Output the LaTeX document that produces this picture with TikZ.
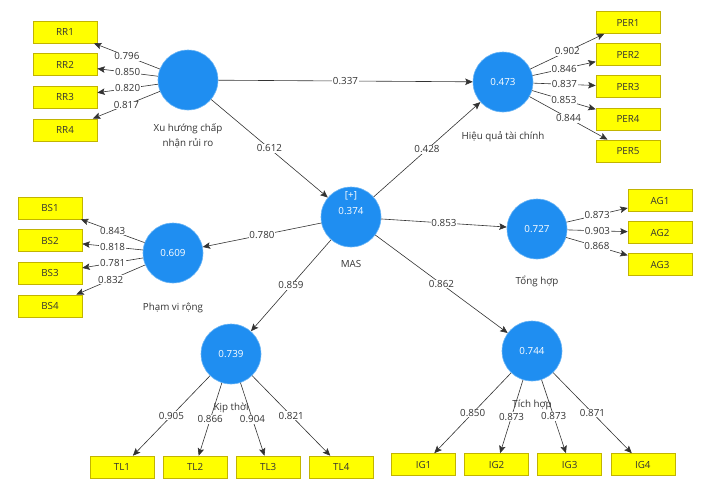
\documentclass[tikz,border=0pt]{standalone}
\usepackage{fontspec}
\setmainfont{Open Sans}
\usetikzlibrary{positioning,arrows.meta}
\definecolor{lv}{HTML}{1F8EF1}
\definecolor{lvrim}{HTML}{6DB6F5}
\definecolor{ind}{HTML}{FFFF00}
\definecolor{indrim}{HTML}{C2B400}
\definecolor{ink}{HTML}{333333}
\tikzset{
  lat/.style={circle, fill=lv, draw=lvrim, line width=0.6pt, minimum size=60pt, inner sep=0pt, text=white},
  box/.style={rectangle, fill=ind, draw=indrim, line width=0.6pt, minimum width=64pt, minimum height=22pt, inner sep=0pt, text=ink},
  link/.style={draw=ink, line width=0.6pt, -{Stealth[length=7.5pt, width=6.5pt, inset=1.5pt]}},
  load/.style={fill=white, inner sep=0.8pt, text=ink},
  lvname/.style={text=ink, align=center, inner sep=1pt}}
\begin{document}
\begin{tikzpicture}[x=1pt, y=-1pt, font=\fontsize{9.8}{12}\selectfont, node distance=10pt]
\useasboundingbox (0,0) rectangle (709,483);
% latent variables
\node[lat] (rr) at (188,80) {};
\node[lat] (per) at (503,82) {0.473};
\node[lat] (mas) at (351,217) {};
\node[text=white, align=center, inner sep=0pt] (masv) at ([yshift=13.5pt]mas.center) {[+]\\[4pt]0.374};
\node[lat] (bs) at (173,253) {0.609};
\node[lat] (ag) at (537,229) {0.727};
\node[lat] (tl) at (231,354) {0.739};
\node[lat] (ig) at (532,351) {0.744};
% captions
\node[lvname, below=12pt of rr] (rrname) {Xu hướng chấp\\[3pt]nhận rủi ro};
\node[lvname, below=18pt of per] (pername) {Hiệu quả tài chính};
\node[lvname, below=12pt of mas] (masname) {MAS};
\node[lvname, below=18pt of bs] (bsname) {Phạm vi rộng};
\node[lvname, below=15pt of ag] (agname) {Tổng hợp};
% indicators
\node[box] (rr1) at (65,32) {RR1};
\node[box, below=of rr1] (rr2) {RR2};
\node[box, below=of rr2] (rr3) {RR3};
\node[box, below=of rr3] (rr4) {RR4};
\node[box] (per1) at (628,22.5) {PER1};
\node[box, below=9.5pt of per1] (per2) {PER2};
\node[box, below=9.5pt of per2] (per3) {PER3};
\node[box, below=9.5pt of per3] (per4) {PER4};
\node[box, below=9.5pt of per4] (per5) {PER5};
\node[box] (bs1) at (50,208) {BS1};
\node[box, below=of bs1] (bs2) {BS2};
\node[box, below=of bs2] (bs3) {BS3};
\node[box, below=of bs3] (bs4) {BS4};
\node[box] (ag1) at (660,200.5) {AG1};
\node[box, below=9.5pt of ag1] (ag2) {AG2};
\node[box, below=9.5pt of ag2] (ag3) {AG3};
\node[box] (tl1) at (122,467) {TL1};
\node[box, right=8.5pt of tl1] (tl2) {TL2};
\node[box, right=8.5pt of tl2] (tl3) {TL3};
\node[box, right=8.5pt of tl3] (tl4) {TL4};
\node[box] (ig1) at (423.5,464.5) {IG1};
\node[box, right=8.5pt of ig1] (ig2) {IG2};
\node[box, right=8.5pt of ig2] (ig3) {IG3};
\node[box, right=8.5pt of ig3] (ig4) {IG4};
% outer loadings
\draw[link] (rr) -- node[load] {0.796} (rr1);
\draw[link] (rr) -- node[load] {0.850} (rr2);
\draw[link] (rr) -- node[load] {0.820} (rr3);
\draw[link] (rr) -- node[load] {0.817} (rr4);
\draw[link] (per) -- node[load] {0.902} (per1);
\draw[link] (per) -- node[load] {0.846} (per2);
\draw[link] (per) -- node[load] {0.837} (per3);
\draw[link] (per) -- node[load] {0.853} (per4);
\draw[link] (per) -- node[load] {0.844} (per5);
\draw[link] (bs) -- node[load] {0.843} (bs1);
\draw[link] (bs) -- node[load] {0.818} (bs2);
\draw[link] (bs) -- node[load] {0.781} (bs3);
\draw[link] (bs) -- node[load] {0.832} (bs4);
\draw[link] (ag) -- node[load] {0.873} (ag1);
\draw[link] (ag) -- node[load] {0.903} (ag2);
\draw[link] (ag) -- node[load] {0.868} (ag3);
\draw[link] (tl) -- node[load] {0.905} (tl1);
\draw[link] (tl) -- node[load] {0.866} (tl2);
\draw[link] (tl) -- node[load] {0.904} (tl3);
\draw[link] (tl) -- node[load] {0.821} (tl4);
\draw[link] (ig) -- node[load] {0.850} (ig1);
\draw[link] (ig) -- node[load] {0.873} (ig2);
\draw[link] (ig) -- node[load] {0.873} (ig3);
\draw[link] (ig) -- node[load] {0.871} (ig4);
% path coefficients
\draw[link] (rr) -- node[load] {0.337} (per);
\draw[link] (rr) -- node[load] {0.612} (mas);
\draw[link] (mas) -- node[load] {0.428} (per);
\draw[link] (mas) -- node[load] {0.780} (bs);
\draw[link] (mas) -- node[load] {0.853} (ag);
\draw[link] (mas) -- node[load] {0.859} (tl);
\draw[link] (mas) -- node[load] {0.862} (ig);
% captions drawn over the lines
\node[lvname, below=17pt of tl] (tlname) {Kịp thời};
\node[lvname, below=17pt of ig] (igname) {Tích hợp};
\end{tikzpicture}
\end{document}
